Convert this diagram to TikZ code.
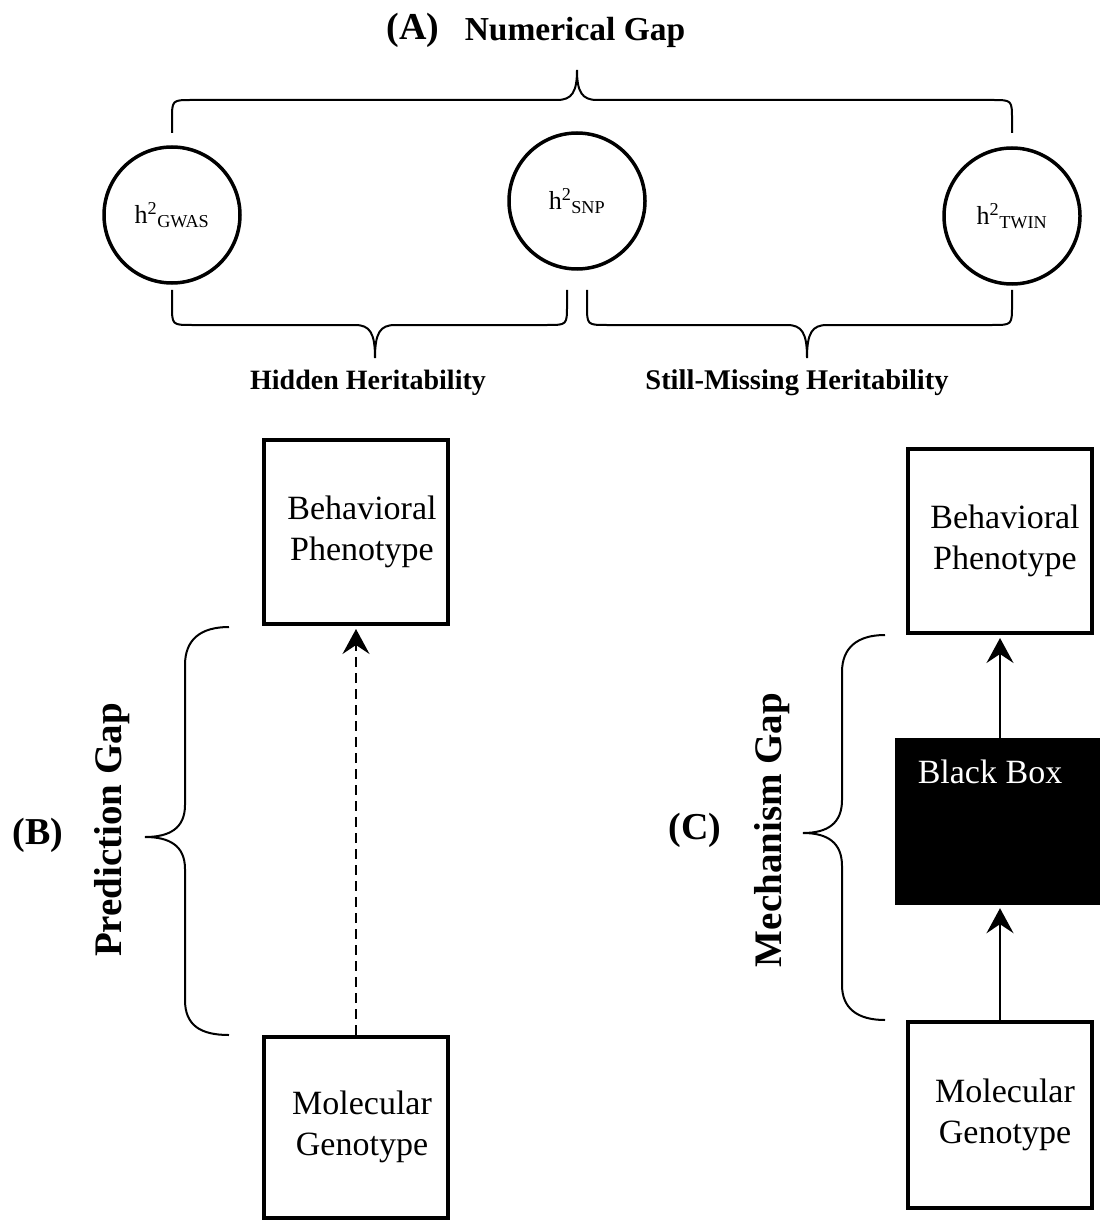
\documentclass[tikz,border=0pt]{standalone}
\usepackage{fontspec}
\setmainfont{Liberation Serif}
\usetikzlibrary{arrows.meta}
\begin{document}
\begin{tikzpicture}[x=1pt,y=-1pt,
  circ/.style={circle, draw, line width=3.5pt, minimum size=136pt, inner sep=0pt, font=\fontsize{26}{30}\selectfont},
  gbox/.style={rectangle, draw, line width=4pt, align=center, font=\fontsize{34}{41}\selectfont, inner sep=0pt},
  brace/.style={line width=2pt},
  conn/.style={line width=2.2pt, shorten >=3pt, -{Stealth[length=25pt,width=27pt,inset=9pt]}},
  biglbl/.style={font=\bfseries\fontsize{38}{40}\selectfont},
  sublbl/.style={font=\bfseries\fontsize{28}{30}\selectfont},
]
\useasboundingbox (0,0) rectangle (1099,1222);
\fill[white] (0,0) rectangle (1099,1222);

% (A) title
\node[biglbl] (tA) at (413,30) {(A)};
\node[font=\bfseries\fontsize{33.5}{40}\selectfont] (tNum) at (575,32) {Numerical Gap};

% circles
\node[circ] (gwas) at (172,215) {h\textsuperscript{2}\textsubscript{GWAS}};
\node[circ] (snp) at (577,201) {h\textsuperscript{2}\textsubscript{SNP}};
\node[circ] (twin) at (1012,216) {h\textsuperscript{2}\textsubscript{TWIN}};

% top brace
\draw[brace] (172,133) -- (172,120) .. controls (172,100) .. (192,100) -- (557,100) .. controls (572,100) and (577,92) .. (577,70) .. controls (577,92) and (582,100) .. (597,100) -- (992,100) .. controls (1012,100) .. (1012,120) -- (1012,133);

% bottom braces
\draw[brace] (172,290) -- (172,305) .. controls (172,325) .. (192,325) -- (355,325) .. controls (370,325) and (375,333) .. (375,358) .. controls (375,333) and (380,325) .. (395,325) -- (547,325) .. controls (567,325) .. (567,305) -- (567,290);
\draw[brace] (587,290) -- (587,305) .. controls (587,325) .. (607,325) -- (787,325) .. controls (802,325) and (807,333) .. (807,358) .. controls (807,333) and (812,325) .. (827,325) -- (992,325) .. controls (1012,325) .. (1012,305) -- (1012,290);

\node[sublbl] (hid) at (368,383) {Hidden Heritability};
\node[font=\bfseries\fontsize{28.5}{30}\selectfont] (still) at (797,383) {Still-Missing Heritability};

% (B)
\node[gbox, minimum width=184pt, minimum height=184pt] (bpB) at (356,532) {\hspace*{12pt}Behavioral\\\hspace*{12pt}Phenotype};
\node[gbox, minimum width=184pt, minimum height=181pt] (mgB) at (356,1127) {\hspace*{12pt}Molecular\\\hspace*{12pt}Genotype};
\draw[conn, dash pattern=on 10pt off 6pt] (mgB.north) -- (bpB.south);
\draw[brace] (229,627) .. controls (200,627) and (185,640) .. (185,665) -- (185,805) .. controls (185,828) and (170,837) .. (145,837) .. controls (170,837) and (185,846) .. (185,869) -- (185,1000) .. controls (185,1025) and (200,1035) .. (229,1035);
\node[biglbl] (lB) at (38,835) {(B)};
\node[font=\bfseries\fontsize{39}{40}\selectfont, rotate=90] (pg) at (112,830) {Prediction Gap};

% (C)
\node[gbox, minimum width=184pt, minimum height=184pt] (bpC) at (1000,541) {\hspace*{10pt}Behavioral\\\hspace*{10pt}Phenotype};
\node[gbox, minimum width=184pt, minimum height=186pt] (mgC) at (1000,1115) {\hspace*{10pt}Molecular\\\hspace*{10pt}Genotype};
\node[rectangle, fill=black, minimum width=215pt, minimum height=167pt, inner sep=0pt] (bb) at (1002,821.5) {};
\node[text=white, font=\fontsize{34}{40}\selectfont] (bbt) at (990,772) {Black Box};
\draw[conn] (bpC.south |- bb.north) -- (bpC.south);
\draw[conn] (mgC.north) -- (mgC.north |- bb.south);
\draw[brace] (885,635) .. controls (857,635) and (842,648) .. (842,672) -- (842,800) .. controls (842,823) and (828,833) .. (803,833) .. controls (828,833) and (842,843) .. (842,866) -- (842,985) .. controls (842,1008) and (857,1020) .. (885,1020);
\node[biglbl] (lC) at (695,830) {(C)};
\node[font=\bfseries\fontsize{39}{40}\selectfont, rotate=90] (mg) at (772,830) {Mechanism Gap};
\end{tikzpicture}
\end{document}
